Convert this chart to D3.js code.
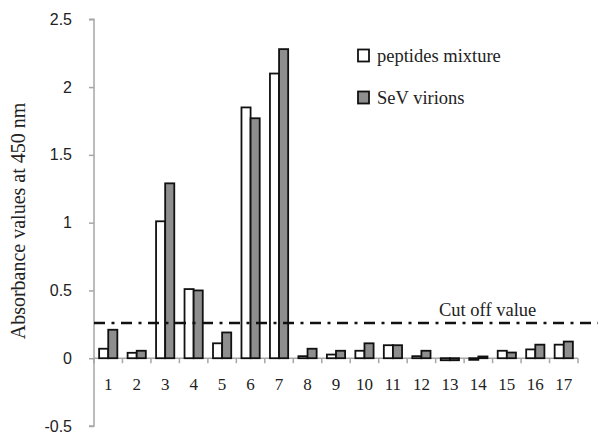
<!DOCTYPE html>
<html>
<head>
<meta charset="utf-8">
<script src="https://cdn.jsdelivr.net/npm/d3@7"></script>
<style>
  body { margin: 0; background: #fff; }
  svg { display: block; }
</style>
</head>
<body>
<svg id="chart" width="598" height="437"></svg>
<script>
// peptide numbers on the x axis
const categories = ['1','2','3','4','5','6','7','8','9','10','11','12','13','14','15','16','17'];
const seriesNames = ['peptides mixture', 'SeV virions'];
const peptides = [0.07, 0.04, 1.01, 0.51, 0.11, 1.85, 2.10, 0.015, 0.027, 0.055, 0.096, 0.015, -0.015, -0.012, 0.055, 0.065, 0.10];
const virions  = [0.21, 0.055, 1.29, 0.50, 0.19, 1.77, 2.28, 0.07, 0.055, 0.11, 0.096, 0.055, -0.015, 0.013, 0.042, 0.10, 0.123];
const yTicks = [-0.5, 0, 0.5, 1, 1.5, 2, 2.5];
const cutOff = 0.26;

const svg = d3.select('#chart');
const mLeft = 94, mRight = 578, mTop = 19.3, mBottom = 426;
const serif = 'Liberation Serif, Times New Roman, serif';

const x = d3.scaleBand().domain(categories).range([mLeft, mRight]).paddingInner(0.36).paddingOuter(0.18);
const x1 = d3.scaleBand().domain(seriesNames).range([0, x.bandwidth()]);
const y = d3.scaleLinear().domain([-0.5, 2.5]).range([mBottom, mTop]);
const fills = ['#ffffff', '#8e8e8e'];

// y axis
const yAxis = svg.append('g')
    .attr('transform', `translate(${mLeft},0)`)
    .call(d3.axisLeft(y).tickValues(yTicks).tickSize(5).tickFormat(d => String(d)));
yAxis.selectAll('path, line').attr('stroke', '#a6a6a6').attr('stroke-width', 1.5);
yAxis.select('.domain').attr('d', `M-5,${y(2.5)}H0V${y(-0.5)}H-5`);
yAxis.selectAll('text')
    .attr('x', -22)
    .attr('font-family', 'Liberation Sans, Arial, sans-serif')
    .attr('font-size', 16)
    .attr('fill', '#222');

// x axis on the zero line, ticks between categories
const xg = svg.append('g');
xg.append('line')
    .attr('x1', mLeft).attr('x2', mRight)
    .attr('y1', y(0)).attr('y2', y(0))
    .attr('stroke', '#a6a6a6').attr('stroke-width', 1.5);
const step = (mRight - mLeft) / categories.length;
d3.range(categories.length + 1).forEach(i => {
    xg.append('line')
        .attr('x1', mLeft + i * step).attr('x2', mLeft + i * step)
        .attr('y1', y(0)).attr('y2', y(0) + 5)
        .attr('stroke', '#a6a6a6').attr('stroke-width', 1.5);
});
xg.selectAll('.cat').data(categories).enter().append('text')
    .attr('x', d => x(d) + x.bandwidth() / 2)
    .attr('y', 390)
    .attr('text-anchor', 'middle')
    .attr('font-family', serif)
    .attr('font-size', 17)
    .attr('fill', '#222')
    .text(d => d);

// bars
const rows = categories.map((c, i) => ({ c, vals: [peptides[i], virions[i]] }));
const groups = svg.append('g').selectAll('g').data(rows).enter().append('g')
    .attr('transform', d => `translate(${x(d.c)},0)`);
groups.selectAll('rect').data(d => d.vals.map((v, k) => ({ v, k }))).enter().append('rect')
    .attr('x', d => x1(seriesNames[d.k]))
    .attr('width', x1.bandwidth())
    .attr('y', d => Math.min(y(d.v), y(0)))
    .attr('height', d => Math.abs(y(d.v) - y(0)))
    .attr('fill', d => fills[d.k])
    .attr('stroke', '#111')
    .attr('stroke-width', 1.8);

// cut off line
svg.append('line')
    .attr('x1', mLeft).attr('x2', 598)
    .attr('y1', y(cutOff)).attr('y2', y(cutOff))
    .attr('stroke', '#111').attr('stroke-width', 2.5)
    .attr('stroke-dasharray', '11,6.5,3,6.5');
svg.append('text')
    .attr('x', 439).attr('y', 316)
    .attr('font-family', serif)
    .attr('font-size', 18.5)
    .attr('fill', '#222')
    .text('Cut off value');

// legend
const lg = svg.append('g');
seriesNames.forEach((n, i) => {
    lg.append('rect')
        .attr('x', 358).attr('y', 49.5 + i * 42)
        .attr('width', 11).attr('height', 12)
        .attr('fill', fills[i]).attr('stroke', '#111').attr('stroke-width', 1.8);
    lg.append('text')
        .attr('x', 377).attr('y', 62 + i * 42)
        .attr('font-family', serif)
        .attr('font-size', 18.5)
        .attr('fill', '#222')
        .text(n);
});

// y axis title
svg.append('text')
    .attr('transform', `translate(25,221) rotate(-90)`)
    .attr('text-anchor', 'middle')
    .attr('font-family', serif)
    .attr('font-size', 20)
    .attr('fill', '#222')
    .text('Absorbance values at 450 nm');
</script>
</body>
</html>
